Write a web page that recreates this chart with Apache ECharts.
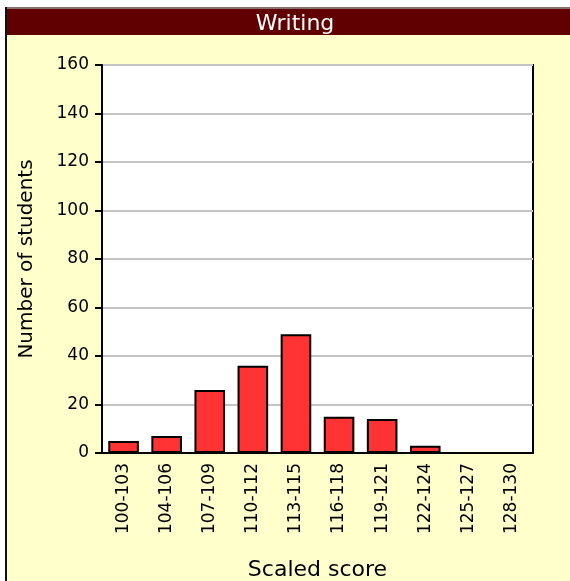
<!DOCTYPE html>
<html>
<head>
<meta charset="utf-8">
<script src="https://cdn.jsdelivr.net/npm/echarts@6/dist/echarts.min.js"></script>
<style>
html,body{margin:0;padding:0;background:#fff;}
#chart{width:570px;height:581px;}
</style>
</head>
<body>
<div id="chart"></div>
<script>
const titleText = "Writing";
const categories = ["100-103","104-106","107-109","110-112","113-115","116-118","119-121","122-124","125-127","128-130"];
const students = [5, 7, 26, 36, 49, 15, 14, 3, 0, 0];
const yMin = 0, yMax = 160, yStep = 20;
const xAxisName = "Scaled score";
const yAxisName = "Number of students";

const FONT = "DejaVu Sans";
const chart = echarts.init(document.getElementById('chart'), null, {renderer:'canvas'});
chart.setOption({
  backgroundColor: '#ffffff',
  animation: false,
  graphic: [
    {type:'rect', z:-10, shape:{x:7, y:7, width:563, height:574}, style:{fill:'#FFFFCC'}},
    {type:'rect', z:-9, shape:{x:7, y:7, width:563, height:2}, style:{fill:'#8a7070'}},
    {type:'rect', z:-9, shape:{x:7, y:9, width:563, height:26}, style:{fill:'#600000'}},
    {type:'rect', z:-8, shape:{x:5, y:7, width:2, height:574}, style:{fill:'#111'}}
  ],
  title: {
    text: titleText,
    left: 290, textAlign: 'center',
    top: 8,
    textStyle: {color:'#ffffff', fontFamily: FONT, fontSize: 22, fontWeight:'normal'}
  },
  grid: {
    left: 102, right: 37, top: 65, bottom: 128,
    outerBoundsMode: 'none', containLabel: false,
    show: true, backgroundColor: '#ffffff', borderColor: '#000', borderWidth: 2
  },
  xAxis: {
    type: 'category',
    data: categories,
    name: xAxisName,
    nameLocation: 'middle',
    nameGap: 106,
    nameTextStyle: {color:'#000', fontFamily: FONT, fontSize: 22},
    axisLine: {lineStyle:{color:'#000', width:2}},
    axisTick: {alignWithLabel: true, length: 8, lineStyle:{color:'#000', width:2}},
    axisLabel: {rotate: 90, margin: 10, color:'#000', fontFamily: FONT, fontSize: 17, interval: 0}
  },
  yAxis: {
    type: 'value',
    min: yMin, max: yMax, interval: yStep,
    name: yAxisName,
    nameLocation: 'middle',
    nameGap: 65,
    nameTextStyle: {color:'#000', fontFamily: FONT, fontSize: 20},
    axisLine: {show: true, lineStyle:{color:'#000', width:2}},
    axisTick: {show: true, length: 7, lineStyle:{color:'#000', width:2}},
    axisLabel: {margin: 13, color:'#000', fontFamily: FONT, fontSize: 17},
    splitLine: {show: true, lineStyle:{color:'#c4c4c4', width:2}}
  },
  series: [{
    type: 'bar',
    data: students,
    barCategoryGap: '29%',
    itemStyle: {color:'#FF3333', borderColor:'#000', borderWidth: 2}
  }]
});
</script>
</body>
</html>
